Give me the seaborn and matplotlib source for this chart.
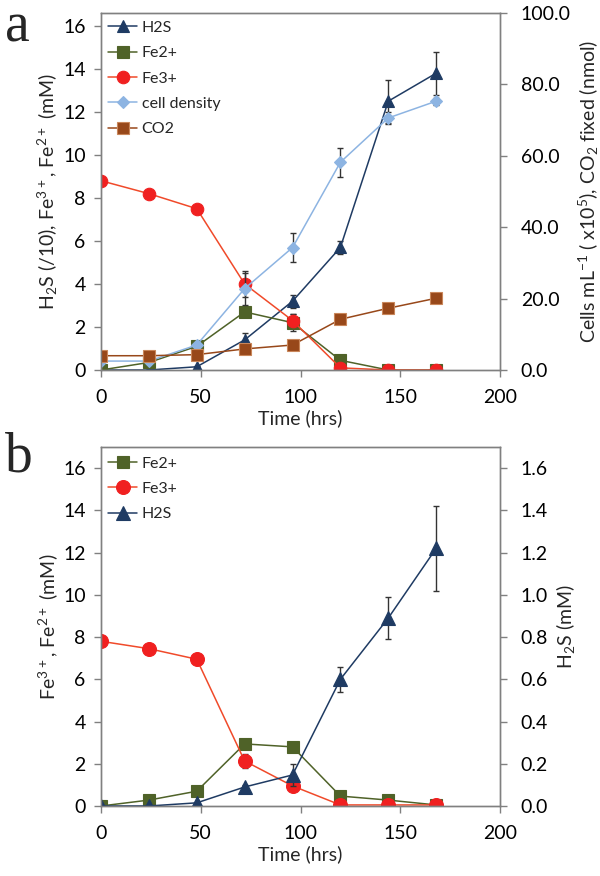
import numpy as np
import matplotlib
matplotlib.use("Agg")
import matplotlib.pyplot as plt
import seaborn as sns

# time points (hrs)
time = [0, 24, 48, 72, 96, 120, 144, 168]

# panel a (left axis, mM; H2S divided by 10)
a_h2s = [0.0, 0.0, 0.15, 1.4, 3.2, 5.7, 12.5, 13.8]
a_h2s_err = [0, 0, 0.05, 0.3, 0.3, 0.3, 1.0, 1.0]
a_fe2 = [0.0, 0.35, 1.1, 2.7, 2.2, 0.45, 0.0, 0.0]
a_fe2_err = [0, 0, 0.1, 0.1, 0.4, 0.1, 0, 0]
a_fe3 = [8.8, 8.2, 7.5, 4.0, 2.3, 0.1, 0.0, 0.0]
a_fe3_err = [0, 0, 0.1, 0.6, 0.3, 0, 0, 0]
# panel a (right axis)
a_cells = [2.5, 2.5, 7.0, 22.8, 34.3, 58.2, 70.6, 75.3]
a_cells_err = [0, 0, 0.8, 4.5, 4.0, 4.0, 1.8, 1.0]
a_co2 = [4.0, 4.0, 4.3, 5.9, 7.0, 14.2, 17.3, 20.1]
a_co2_err = [0, 0, 0, 0, 0, 0.8, 0, 0]

# panel b
b_fe2 = [0.0, 0.28, 0.7, 2.94, 2.8, 0.47, 0.28, 0.05]
b_fe2_err = [0, 0, 0, 0.1, 0.12, 0, 0, 0]
b_fe3 = [7.8, 7.45, 6.95, 2.13, 0.95, 0.05, 0.05, 0.05]
b_fe3_err = [0, 0, 0, 0.35, 0.1, 0, 0, 0]
b_h2s = [0.0, 0.0, 0.015, 0.09, 0.147, 0.60, 0.89, 1.22]
b_h2s_err = [0, 0, 0, 0.01, 0.05, 0.06, 0.1, 0.2]

sns.set_style("ticks")
plt.rcParams["font.family"] = ["Lato", "DejaVu Sans"]
plt.rcParams["mathtext.default"] = "regular"
plt.rcParams["axes.edgecolor"] = "#808080"
plt.rcParams["xtick.color"] = "#808080"
plt.rcParams["ytick.color"] = "#808080"
plt.rcParams["xtick.labelcolor"] = "black"
plt.rcParams["ytick.labelcolor"] = "black"

C_H2S = "#1f3b63"
C_FE2 = "#4f6228"
C_FE3 = "#f02020"
C_FE3L = "#f04a2a"
C_CELL = "#8db4e2"
C_CO2 = "#98481a"

fig = plt.figure(figsize=(6, 8.76), dpi=100)
W, H = 600, 876
ax_a = fig.add_axes([101 / W, 1 - 370 / H, 399 / W, 357 / H])
ax_b = fig.add_axes([101 / W, 1 - 806 / H, 399 / W, 359 / H])


def series(ax, y, err, color, marker, ms, label, lcolor=None, mec=None):
    sns.lineplot(x=time, y=y, ax=ax, color=lcolor or color, lw=1.1,
                 marker=marker, markersize=ms, markerfacecolor=color,
                 markeredgecolor=mec or color, markeredgewidth=0.8,
                 label=label, legend=False)
    e = np.array(err, dtype=float)
    m = e > 0
    ax.errorbar(np.array(time)[m], np.array(y)[m], yerr=e[m], fmt="none",
                ecolor="#333333", elinewidth=1.0, capsize=2.5, capthick=1.0,
                zorder=1)


def style(ax, twin, ylim, yticks, fmt):
    ax.set_xlim(0, 200)
    ax.set_xticks([0, 50, 100, 150, 200])
    ax.set_ylim(*ylim)
    ax.set_yticks(yticks)
    ax.set_yticklabels([fmt.format(v) for v in yticks])
    ax.tick_params(axis="x", labelsize=14, length=5, width=1, pad=9)
    ax.tick_params(axis="y", labelsize=14, length=5, width=1, pad=6)
    twin.tick_params(axis="y", labelsize=14, length=5, width=1, pad=10)
    for sp in list(ax.spines.values()) + list(twin.spines.values()):
        sp.set_visible(True)
        sp.set_color("#808080")
        sp.set_linewidth(1.0)
    ax.set_xlabel("Time (hrs)", fontsize=14, labelpad=2)


# ---- panel a ----
tw_a = ax_a.twinx()
series(ax_a, a_h2s, a_h2s_err, C_H2S, "^", 9, "H2S")
series(ax_a, a_fe2, a_fe2_err, C_FE2, "s", 8, "Fe2+")
series(ax_a, a_fe3, a_fe3_err, C_FE3, "o", 9, "Fe3+", lcolor=C_FE3L)
series(tw_a, a_cells, a_cells_err, C_CELL, "D", 6, "cell density")
series(tw_a, a_co2, a_co2_err, C_CO2, "s", 9, "CO2", mec="#c9865a")
style(ax_a, tw_a, (0, 16.6), [0, 2, 4, 6, 8, 10, 12, 14, 16], "{:g}")
tw_a.set_ylim(0, 100)
tw_a.set_yticks([0, 20, 40, 60, 80, 100])
tw_a.set_yticklabels(["{:.1f}".format(v) for v in [0, 20, 40, 60, 80, 100]])
ax_a.set_ylabel("H$_2$S (/10), Fe$^{3+}$, Fe$^{2+}$ (mM)", fontsize=14, labelpad=2)
tw_a.set_ylabel("Cells mL$^{-1}$ ( x10$^5$), CO$_2$ fixed (nmol)", fontsize=14,
                labelpad=4)
h1, l1 = ax_a.get_legend_handles_labels()
h2, l2 = tw_a.get_legend_handles_labels()
tw_a.legend(h1 + h2, l1 + l2, loc="upper left", bbox_to_anchor=(-0.01, 1.01),
            frameon=False, fontsize=11.5, handlelength=1.8, handletextpad=0.3,
            labelspacing=0.7, borderaxespad=0.3)

# ---- panel b ----
tw_b = ax_b.twinx()
series(ax_b, b_fe2, b_fe2_err, C_FE2, "s", 9, "Fe2+")
series(ax_b, b_fe3, b_fe3_err, C_FE3, "o", 10, "Fe3+", lcolor=C_FE3L)
series(tw_b, b_h2s, b_h2s_err, C_H2S, "^", 10, "H2S")
style(ax_b, tw_b, (0, 17), [0, 2, 4, 6, 8, 10, 12, 14, 16], "{:g}")
tw_b.set_ylim(0, 1.7)
tw_b.set_yticks([0, 0.2, 0.4, 0.6, 0.8, 1.0, 1.2, 1.4, 1.6])
tw_b.set_yticklabels(["{:.1f}".format(v) for v in tw_b.get_yticks()])
ax_b.set_ylabel("Fe$^{3+}$, Fe$^{2+}$ (mM)", fontsize=14, labelpad=2)
tw_b.set_ylabel("H$_2$S (mM)", fontsize=14, labelpad=4)
h1, l1 = ax_b.get_legend_handles_labels()
h2, l2 = tw_b.get_legend_handles_labels()
tw_b.legend(h1 + h2, l1 + l2, loc="upper left", bbox_to_anchor=(-0.01, 1.005),
            frameon=False, fontsize=11.5, handlelength=1.8, handletextpad=0.3,
            labelspacing=0.7, borderaxespad=0.3)

fig.text(5 / W, 1 - 42 / H, "a", fontsize=40, family="Liberation Serif")
fig.text(5 / W, 1 - 472 / H, "b", fontsize=40, family="Liberation Serif")

fig.savefig("out.png", dpi=100)
